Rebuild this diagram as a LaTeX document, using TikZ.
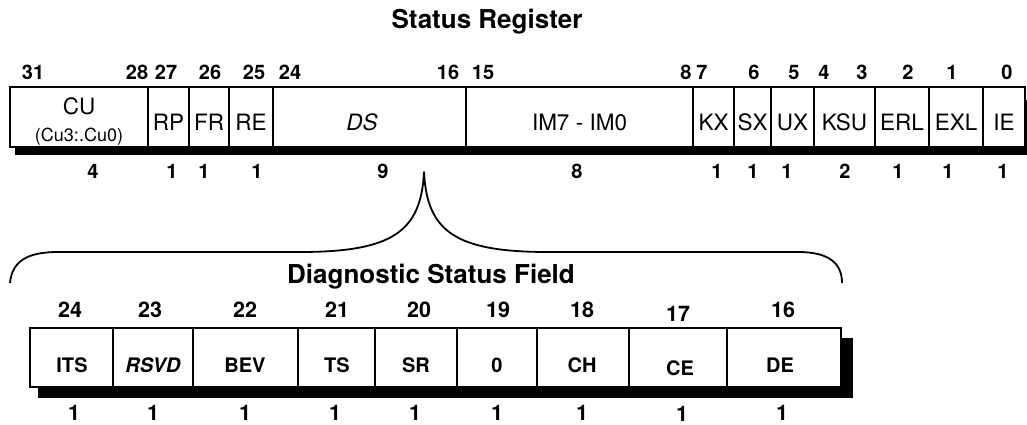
\documentclass[tikz,border=0pt]{standalone}
\usepackage{fontspec}
\setmainfont{TeX Gyre Heros}
\begin{document}
\begin{tikzpicture}[x=1pt,y=-1pt,
  fld/.style={draw, line width=1.8pt, fill=white, inner sep=0pt, outer sep=0pt},
  toplbl/.style={anchor=base, inner sep=0pt, font=\fontsize{22.5}{24}\selectfont},
  botlbl/.style={anchor=base, inner sep=0pt, font=\bfseries\fontsize{20}{22}\selectfont},
  topnum/.style={anchor=base, inner sep=0pt, font=\bfseries\fontsize{20}{22}\selectfont},
  botnum/.style={anchor=base, inner sep=0pt, font=\bfseries\fontsize{21.5}{24}\selectfont},
  ttl/.style={anchor=base, inner sep=0pt, font=\bfseries\fontsize{26}{28}\selectfont},
  shadow/.style={fill=black},
  brace/.style={draw, line width=1.8pt, line join=round}]
\useasboundingbox (0,0) rectangle (1027,425);

% titles
\node[ttl] (title) at (487,29) {Status Register};
\node[ttl] (dtitle) at (431,283) {Diagnostic Status Field};

% ---- top register ----
\fill[shadow] (15,100) rectangle (1027,155);
\foreach \l/\r/\n in {10/148/cu,148/189/rp,189/229/fr,229/273/re,273/466/ds,466/693/im,693/734/kx,734/771/sx,771/814/ux,814/875/ksu,875/929/erl,929/983/exl,983/1025/ie}{
  \node[fld, minimum width={(\r-\l)*1pt}, minimum height=60pt] (\n) at ({(\l+\r)/2},117) {};
}
\node[toplbl] (cut) at (79,115) {CU};
\node[toplbl, font=\fontsize{18}{20}\selectfont] (cus) at (79,141) {(Cu3:.Cu0)};
\foreach \x/\t/\n in {168.5/RP/rpt,209/FR/frt,251/RE/ret,362/\textit{DS}/dst,579.5/IM7 - IM0/imt,713.5/KX/kxt,752.5/SX/sxt,792.5/UX/uxt,844.5/KSU/ksut,902/ERL/erlt,956/EXL/exlt,1004/IE/iet}{
  \node[toplbl] (\n) at (\x,130) {\t};
}
\foreach \x/\t in {33/31,137/28,166/27,210/26,254/25,290/24,448/16,483/15,686/8,702/7,754/6,794/5,824/4,862/3,908/2,952/1,1007/0}{
  \node[topnum] (tb\t) at (\x,80) {\t};
}
\foreach \x/\t/\n in {93/4/w1,172/1/w2,204/1/w3,257/1/w4,383/9/w5,577/8/w6,717/1/w7,753/1/w8,787/1/w9,845/2/w10,898/1/w11,948/1/w12,1003/1/w13}{
  \node[topnum] (\n) at (\x,178) {\t};
}

% ---- brace ----
\coordinate (apex) at (424,172);
\coordinate (bl) at (10,283);
\coordinate (br) at (842,283);
\draw[brace] (bl) .. controls (12,262) and (26,252) .. (58,252) -- (300,252)
  .. controls (392,252) and (421,232) .. (apex)
  .. controls (427,232) and (456,252) .. (548,252) -- (798,252)
  .. controls (830,252) and (842,264) .. (br);

% ---- diagnostic field ----
\fill[shadow] (38,338) rectangle (853,398);
\foreach \l/\r/\n in {30/113/its,113/193/rsvd,193/298/bev,298/375/ts,375/457/sr,457/537/zero,537/629/ch,629/727/ce,727/841/de}{
  \node[fld, minimum width={(\r-\l)*1pt}, minimum height=59pt] (\n) at ({(\l+\r)/2},357.5) {};
}
\foreach \x/\t/\n/\y in {72/ITS/itst/372,153/\textit{RSVD}/rsvdt/372,245/BEV/bevt/372,337/TS/tst/372,416/SR/srt/372,497/0/zerot/372,582/CH/cht/372,680/CE/cet/375,780/DE/det/372}{
  \node[botlbl] (\n) at (\x,\y) {\t};
}
\foreach \x/\t/\y in {70/24/317,150/23/317,245/22/317,337/21/317,419/20/317,498/19/317,582/18/317,678/17/321,783/16/317}{
  \node[botnum] (db\t) at (\x,\y) {\t};
}
\foreach \x/\n/\y in {74/v1/420.5,153/v2/420.5,245/v3/420.5,335/v4/420.5,415/v5/420.5,497/v6/420.5,582/v7/420.5,682/v8/421.5,782/v9/420.5}{
  \node[botnum] (\n) at (\x,\y) {1};
}
\end{tikzpicture}
\end{document}
